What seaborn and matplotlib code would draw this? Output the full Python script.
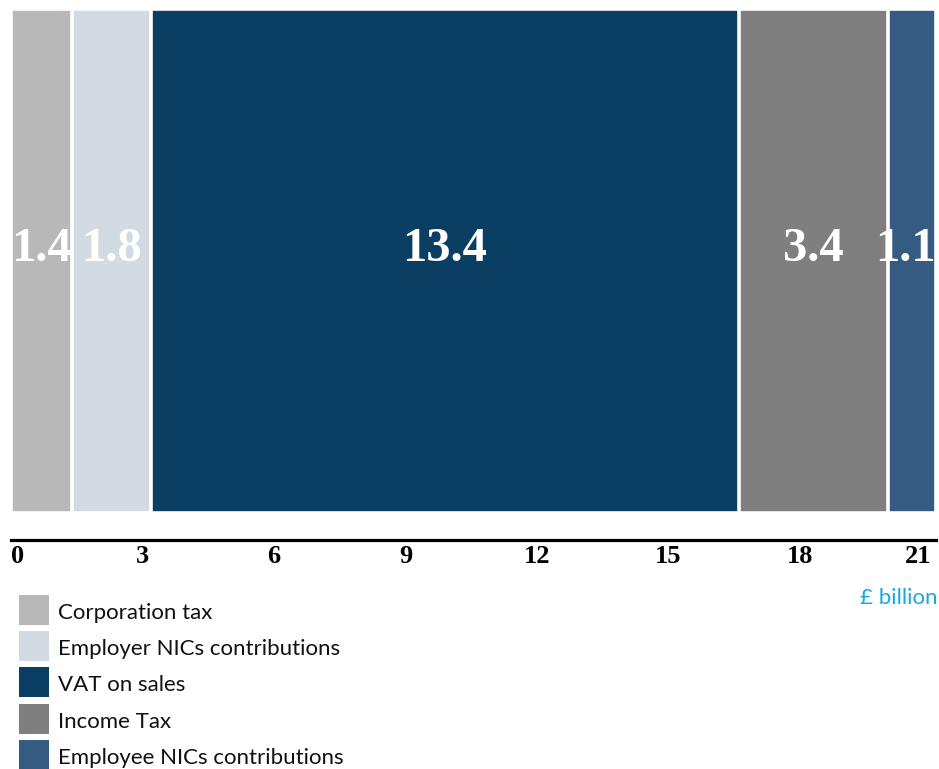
import numpy as np
import pandas as pd
import matplotlib
matplotlib.use("Agg")
import matplotlib.pyplot as plt
from matplotlib.patches import Rectangle
import seaborn as sns

# Tax contributions, £ billion
categories = ["Corporation tax", "Employer NICs contributions", "VAT on sales",
              "Income Tax", "Employee NICs contributions"]
values = [1.4, 1.8, 13.4, 3.4, 1.1]
colors = ["#b8b8b8", "#d3dbe2", "#0b3e63", "#7f7f7f", "#355b82"]
tick_values = [0, 3, 6, 9, 12, 15, 18, 21]
unit_label = "£ billion"

df = pd.DataFrame({"category": categories, "value": values, "color": colors})
df["end"] = df["value"].cumsum()
df["start"] = df["end"] - df["value"]
df["mid"] = df["start"] + df["value"] / 2
total = df["value"].sum()

sns.set_theme(style="white")
plt.rcParams["font.family"] = ["Lato", "DejaVu Sans"]

W, H = 939, 769
fig = plt.figure(figsize=(W / 100, H / 100), dpi=100)
ax = fig.add_axes([11 / W, 1 - 540 / H, (936 - 11) / W, (540 - 9) / H])

# Stacked bar: draw cumulative totals from the widest down, each layer on top
for _, row in df.iloc[::-1].iterrows():
    sns.barplot(x=[row["end"]], y=["total"], orient="h", color=row["color"],
                width=1.0, edgecolor="white", linewidth=2.6, saturation=1,
                ax=ax)

ax.set_xlim(0, total)
ax.set_ylim(0.5 + 27 / 504, -0.5)
ax.set_xlabel("")
ax.set_ylabel("")
ax.set_yticks([])

serif = ["Liberation Serif", "DejaVu Serif"]
value_texts = []
for _, row in df.iterrows():
    t = ax.text(row["mid"], 0.0, f"{row['value']:.1f}", ha="center",
                va="baseline", color="white", fontsize=35, fontweight="bold",
                family=serif)
    value_texts.append(t)

for side in ["top", "left", "right"]:
    ax.spines[side].set_visible(False)
ax.spines["bottom"].set_color("black")
ax.spines["bottom"].set_linewidth(2.3)

ax.set_xticks(tick_values)
ax.set_xticklabels([str(t) for t in tick_values])
ax.tick_params(axis="x", length=0, pad=3.5)
ticklabels = ax.get_xticklabels()
for lab in ticklabels:
    lab.set_fontfamily(serif)
    lab.set_fontweight("bold")
    lab.set_fontsize(19)
    lab.set_color("black")
ticklabels[0].set_ha("left")
ticklabels[-1].set_ha("right")

# Keep the value labels inside the figure edges
fig.canvas.draw()
renderer = fig.canvas.get_renderer()
for t in value_texts:
    bb = t.get_window_extent(renderer)
    overflow = bb.x1 - (W - 3)
    if overflow > 0:
        x_disp = ax.transData.transform((t.get_position()[0], 0))[0] - overflow
        t.set_x(ax.transData.inverted().transform((x_disp, 0))[0])

fig.text(937 / W, 1 - 598 / H, unit_label, ha="right", va="center",
         fontsize=16, color="#1aa9de")

# Legend: colour swatches with labels, stacked below the axis
sw, row_h, top = 30, 36.2, 595
for i, (cat, col) in enumerate(zip(categories, colors)):
    y0 = top + i * row_h
    fig.add_artist(Rectangle((19 / W, 1 - (y0 + sw) / H), sw / W, sw / H,
                             transform=fig.transFigure, facecolor=col,
                             edgecolor="none"))
    fig.text(58 / W, 1 - (y0 + sw / 2 + 3) / H, cat, ha="left", va="center",
             fontsize=16, color="#111111")

fig.savefig("out.png", dpi=100, facecolor="white")
